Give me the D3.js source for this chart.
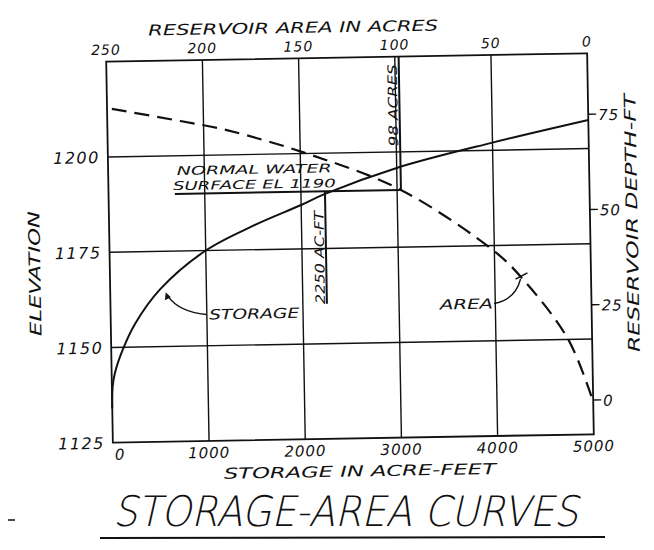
<!DOCTYPE html>
<html>
<head>
<meta charset="utf-8">
<script src="https://cdn.jsdelivr.net/npm/d3@7"></script>
<style>
  html, body { margin: 0; padding: 0; background: #ffffff; }
  svg { display: block; }
  text { font-family: "DejaVu Sans", sans-serif; font-style: italic; fill: #111; }
</style>
</head>
<body>
<div id="chart"></div>
<script>
// ---------- data ----------
const storageTicks = [0, 1000, 2000, 3000, 4000, 5000];
const areaTicks = [250, 200, 150, 100, 50, 0];
const elevTicks = [1125, 1150, 1175, 1200];
const depthTicks = [0, 25, 50, 75];

// storage curve: storage (acre-feet) vs elevation
const storageCurveStorage = [0, 8, 34, 122, 250, 518, 1000, 1500, 2000, 2250, 3000, 4000, 5000];
const storageCurveElev    = [1134, 1139.7, 1143.3, 1149.5, 1156, 1165, 1175, 1181.3, 1186.5, 1189.3, 1195.8, 1202, 1207.5];

// area curve: reservoir area (acres) vs elevation
const areaCurveArea = [247.5, 212, 188, 144.4, 98, 49.6, 35.9, 12.5, 0];
const areaCurveElev = [1212.6, 1209.1, 1206.5, 1199.6, 1190, 1173.3, 1166.3, 1150.1, 1133.5];

const streambedElev = 1134;      // depth 0
const normalWaterElev = 1190;
const normalWaterStorage = 2250;
const normalWaterArea = 98;

// ---------- layout ----------
const W = 654, H = 550;
const pL = 109.5, pR = 590.5, pT = 57.5, pB = 438.5;

const svg = d3.select("#chart").append("svg").attr("width", W).attr("height", H);
svg.append("rect").attr("width", W).attr("height", H).attr("fill", "#ffffff");

const g = svg.append("g").attr("transform", "rotate(-1,350,248)");

const x = d3.scaleLinear().domain([0, 5000]).range([pL, pR]);
const xa = d3.scaleLinear().domain([250, 0]).range([pL, pR]);
const y = d3.scaleLinear().domain([1125, 1225]).range([pB, pT]);
const yd = d3.scaleLinear().domain([0, 75]).range([y(streambedElev), y(streambedElev + 75)]);

const ink = "#111";

// grid
g.append("g").selectAll("line").data(storageTicks.slice(1, -1)).join("line")
  .attr("x1", d => x(d)).attr("x2", d => x(d)).attr("y1", pT).attr("y2", pB)
  .attr("stroke", ink).attr("stroke-width", 1.4);
g.append("g").selectAll("line").data(elevTicks.slice(1)).join("line")
  .attr("x1", pL).attr("x2", pR).attr("y1", d => y(d)).attr("y2", d => y(d))
  .attr("stroke", ink).attr("stroke-width", 1.4);
// frame
g.append("rect").attr("x", pL).attr("y", pT).attr("width", pR - pL).attr("height", pB - pT)
  .attr("fill", "none").attr("stroke", ink).attr("stroke-width", 1.8);

// top axis labels (area)
g.append("g").selectAll("text").data(areaTicks).join("text")
  .attr("x", d => xa(d)).attr("y", pT - 7)
  .attr("text-anchor", "middle").attr("font-size", 14).attr("letter-spacing", 1)
  .text(d => d);
g.append("text").attr("x", 297).attr("y", 32).attr("text-anchor", "middle")
  .attr("font-size", 15).attr("textLength", 290).attr("lengthAdjust", "spacingAndGlyphs")
  .text("RESERVOIR AREA IN ACRES");

// left axis labels (elevation)
g.append("g").selectAll("text").data(elevTicks).join("text")
  .attr("x", pL - 8).attr("y", d => y(d) + 6)
  .attr("text-anchor", "end").attr("font-size", 16).attr("letter-spacing", 1.5)
  .text(d => d);
g.append("text").attr("transform", "translate(40,268) rotate(-90)").attr("text-anchor", "middle")
  .attr("font-size", 16).attr("textLength", 125).attr("lengthAdjust", "spacingAndGlyphs")
  .text("ELEVATION");

// bottom axis labels (storage)
g.append("g").selectAll("text").data(storageTicks).join("text")
  .attr("x", d => d === 0 ? x(d) + 7 : x(d)).attr("y", pB + 17)
  .attr("text-anchor", "middle").attr("font-size", 15).attr("letter-spacing", 1)
  .text(d => d);
g.append("text").attr("x", 356).attr("y", pB + 38).attr("text-anchor", "middle")
  .attr("font-size", 15).attr("textLength", 272).attr("lengthAdjust", "spacingAndGlyphs")
  .text("STORAGE IN ACRE-FEET");

// right axis (depth)
g.append("g").selectAll("line").data(depthTicks).join("line")
  .attr("x1", pR).attr("x2", pR + 8).attr("y1", d => yd(d)).attr("y2", d => yd(d))
  .attr("stroke", ink).attr("stroke-width", 1.4);
g.append("g").selectAll("text").data(depthTicks).join("text")
  .attr("x", pR + 10).attr("y", d => yd(d) + 6)
  .attr("font-size", 15).attr("letter-spacing", 1)
  .text(d => d);
g.append("text").attr("transform", "translate(638,228) rotate(-90)").attr("text-anchor", "middle")
  .attr("font-size", 16).attr("textLength", 258).attr("lengthAdjust", "spacingAndGlyphs")
  .text("RESERVOIR DEPTH-FT");

// curves
const storagePts = storageCurveStorage.map((s, i) => [x(s), y(storageCurveElev[i])]);
const areaPts = areaCurveArea.map((a, i) => [xa(a), y(areaCurveElev[i])]);
const line = d3.line().curve(d3.curveCatmullRom.alpha(0.5));
g.append("path").attr("d", line(storagePts)).attr("fill", "none")
  .attr("stroke", ink).attr("stroke-width", 2);
g.append("path").attr("d", line(areaPts)).attr("fill", "none")
  .attr("stroke", ink).attr("stroke-width", 2.2).attr("stroke-dasharray", "15,8");

// normal water surface annotations
g.append("line").attr("x1", x(690)).attr("x2", xa(normalWaterArea))
  .attr("y1", y(normalWaterElev)).attr("y2", y(normalWaterElev))
  .attr("stroke", ink).attr("stroke-width", 2);
g.append("line").attr("x1", xa(normalWaterArea)).attr("x2", xa(normalWaterArea))
  .attr("y1", pT).attr("y2", y(normalWaterElev))
  .attr("stroke", ink).attr("stroke-width", 2);
g.append("line").attr("x1", x(normalWaterStorage)).attr("x2", x(normalWaterStorage))
  .attr("y1", y(normalWaterElev)).attr("y2", y(1160.5))
  .attr("stroke", ink).attr("stroke-width", 2);

g.append("text").attr("x", 178).attr("y", 172).attr("font-size", 12)
  .attr("textLength", 155).attr("lengthAdjust", "spacingAndGlyphs").text("NORMAL WATER");
g.append("text").attr("x", 174).attr("y", 187).attr("font-size", 12)
  .attr("textLength", 163).attr("lengthAdjust", "spacingAndGlyphs").text("SURFACE EL 1190");
g.append("text").attr("transform", `translate(${x(normalWaterStorage) - 2},257) rotate(-90)`)
  .attr("text-anchor", "middle").attr("font-size", 13)
  .attr("textLength", 93).attr("lengthAdjust", "spacingAndGlyphs").text("2250 AC-FT");
g.append("text").attr("transform", `translate(${xa(normalWaterArea) - 2},106) rotate(-90)`)
  .attr("text-anchor", "middle").attr("font-size", 13)
  .attr("textLength", 82).attr("lengthAdjust", "spacingAndGlyphs").text("98 ACRES");

// curve labels with leaders
g.append("text").attr("x", 208).attr("y", 317).attr("font-size", 14)
  .attr("textLength", 90).attr("lengthAdjust", "spacingAndGlyphs").text("STORAGE");
g.append("path").attr("d", "M205,312 Q178,309 167,293").attr("fill", "none")
  .attr("stroke", ink).attr("stroke-width", 1.4);
g.append("path").attr("d", "M165,289 L164,297 L170,294 Z").attr("fill", ink);

g.append("text").attr("x", 439).attr("y", 311).attr("font-size", 14)
  .attr("textLength", 53).attr("lengthAdjust", "spacingAndGlyphs").text("AREA");
g.append("path").attr("d", "M493,306 Q514,303 520,282").attr("fill", "none")
  .attr("stroke", ink).attr("stroke-width", 1.4);
g.append("line").attr("x1", 515).attr("y1", 282).attr("x2", 527).attr("y2", 276)
  .attr("stroke", ink).attr("stroke-width", 1.6);

// title
svg.append("text").attr("x", 113).attr("y", 526)
  .style("font-family", "'DejaVu Sans Light', 'DejaVu Sans ExtraLight', 'DejaVu Sans', sans-serif")
  .style("font-weight", "200").style("font-style", "italic").style("font-size", "42px")
  .attr("textLength", 465).attr("lengthAdjust", "spacingAndGlyphs").text("STORAGE-AREA CURVES");
svg.append("line").attr("x1", 100).attr("x2", 605).attr("y1", 538).attr("y2", 537)
  .attr("stroke", ink).attr("stroke-width", 2);
svg.append("line").attr("x1", 8).attr("x2", 15).attr("y1", 520).attr("y2", 520)
  .attr("stroke", ink).attr("stroke-width", 1.5);
</script>
</body>
</html>
